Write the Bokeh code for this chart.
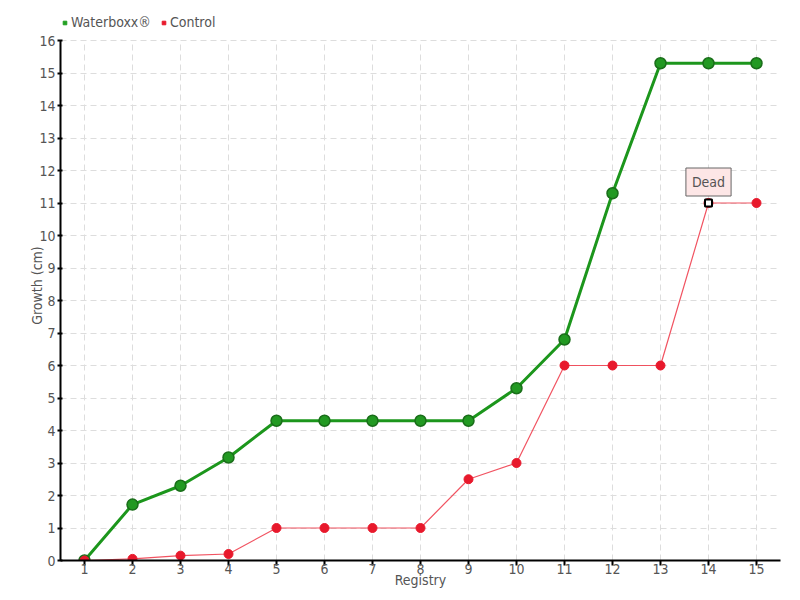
from bokeh.plotting import figure
from bokeh.models import (Legend, LegendItem, Label, FixedTicker, Range1d,
                          ColumnDataSource)
from bokeh.embed import file_html
from bokeh.resources import INLINE

registry = list(range(1, 16))
waterboxx = [0, 1.72, 2.3, 3.17, 4.3, 4.3, 4.3, 4.3, 4.3, 5.3, 6.8, 11.3, 15.3, 15.3, 15.3]
control = [0, 0.05, 0.15, 0.2, 1, 1, 1, 1, 2.5, 3, 6, 6, 6, 11, 11]
y_ticks = list(range(0, 17))
note_index = 13  # Registry 14
note_text = "Dead"

FONT = "DejaVu Sans Condensed, Roboto, sans-serif"
TXT = "#555555"

# frame reaches the top of the canvas so the legend can sit above the axis top
TOP_PAD = 30 / 32.5  # extra head room in data units above the last tick
p = figure(width=800, height=600, output_backend="svg", toolbar_location=None,
           x_range=Range1d(0.5, 15.5), y_range=Range1d(0, y_ticks[-1] + TOP_PAD),
           min_border_left=60, min_border_right=20, min_border_top=10,
           min_border_bottom=40)
p.outline_line_color = None
p.background_fill_color = "white"

for ax in (p.xaxis[0], p.yaxis[0]):
    ax.axis_line_color = "black"
    ax.axis_line_width = 2
    ax.major_tick_line_color = "black"
    ax.major_tick_line_width = 2
    ax.minor_tick_line_color = None
    ax.major_label_text_font = FONT
    ax.major_label_text_font_size = "14px"
    ax.major_label_text_color = TXT
    ax.axis_label_text_font = FONT
    ax.axis_label_text_font_size = "14px"
    ax.axis_label_text_color = TXT
    ax.axis_label_text_font_style = "normal"

p.xaxis.ticker = FixedTicker(ticks=registry)
p.yaxis.ticker = FixedTicker(ticks=y_ticks)
p.yaxis.bounds = (y_ticks[0], y_ticks[-1])
p.xaxis.major_tick_in = 0
p.xaxis.major_tick_out = 5
p.yaxis.major_tick_in = 2
p.yaxis.major_tick_out = 3
p.xaxis.major_label_standoff = -2
p.xaxis.axis_label_standoff = -5
p.yaxis.major_label_standoff = 2
p.yaxis.axis_label_standoff = -9
p.xaxis.axis_label = "Registry"
p.yaxis.axis_label = "Growth (cm)"

GRID = "#dddddd"
p.ygrid.grid_line_color = GRID
p.ygrid.grid_line_dash = "6 4"
p.xgrid.grid_line_color = None
# vertical grid lines limited to the axis extent
p.segment(x0=registry, y0=[y_ticks[0]] * len(registry), x1=registry,
          y1=[y_ticks[-1]] * len(registry), line_color=GRID, line_dash="6 4",
          line_width=1, level="underlay")

src = ColumnDataSource(dict(x=registry, w=waterboxx, c=control))

p.line("x", "w", source=src, line_color="#1c961c", line_width=3)
p.scatter("x", "w", source=src, size=11, fill_color="#229922",
          line_color="#1a6e1a", line_width=1.5)
p.line("x", "c", source=src, line_color="#f04050", line_width=1.2, line_alpha=0.9)
p.scatter("x", "c", source=src, size=9, fill_color="#e8192c",
          line_color="#e8192c")

# annotated point
nx, ny = registry[note_index], control[note_index]
p.scatter([nx], [ny], marker="square", size=7,
          fill_color="white", line_color="black", line_width=2)
lab = Label(x=nx, y=ny, text=note_text,
            x_units="data", y_units="data", y_offset=21,
            text_align="center", text_baseline="middle",
            text_font=FONT, text_font_size="14px", text_color=TXT,
            background_fill_color="#fde6e6", border_line_color="#666666",
            border_line_width=1, padding=6)
p.add_layout(lab)

sw_w = p.scatter([-5], [-5], marker="square", size=8,
                 fill_color="#22a022", line_color="#22a022")
sw_c = p.scatter([-5], [-5], marker="square", size=8,
                 fill_color="#e8192c", line_color="#e8192c")
legend = Legend(items=[LegendItem(label="Waterboxx®", renderers=[sw_w]),
                       LegendItem(label="Control", renderers=[sw_c])],
                orientation="horizontal", location=(0, 530),
                background_fill_alpha=0, border_line_color=None,
                label_text_font=FONT, label_text_font_size="14px",
                label_text_color=TXT, glyph_width=9, glyph_height=9,
                label_standoff=2, spacing=8, padding=0, margin=0)
p.add_layout(legend, "center")

open("out.html", "w").write(file_html(p, INLINE))
